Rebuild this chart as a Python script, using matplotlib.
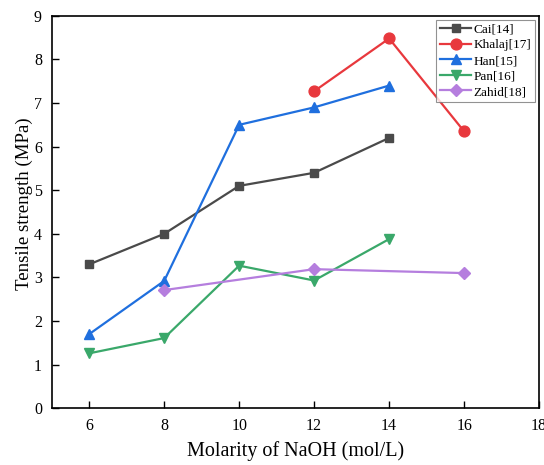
import matplotlib as mpl
mpl.use('Agg')
import matplotlib.pyplot as plt

plt.rcParams['font.family'] = ['Liberation Serif', 'DejaVu Serif']

# tensile strength (MPa) vs NaOH molarity, per study
cai_x = [6, 8, 10, 12, 14]
cai_y = [3.3, 4.0, 5.1, 5.4, 6.2]
khalaj_x = [12, 14, 16]
khalaj_y = [7.27, 8.48, 6.35]
han_x = [6, 8, 10, 12, 14]
han_y = [1.7, 2.92, 6.5, 6.9, 7.4]
pan_x = [6, 8, 10, 12, 14]
pan_y = [1.26, 1.61, 3.27, 2.93, 3.88]
zahid_x = [8, 12, 16]
zahid_y = [2.71, 3.19, 3.1]

fig = plt.figure(figsize=(5.44, 4.65), dpi=100)
ax = fig.add_axes([0.095, 0.122, 0.896, 0.844])

ax.plot(cai_x, cai_y, color='#4a4a4a', marker='s', ms=6.2, lw=1.6, label='Cai[14]')
ax.plot(khalaj_x, khalaj_y, color='#e8383d', marker='o', ms=7.8, lw=1.6, label='Khalaj[17]')
ax.plot(han_x, han_y, color='#1f6fde', marker='^', ms=7.5, lw=1.6, label='Han[15]')
ax.plot(pan_x, pan_y, color='#3aa86a', marker='v', ms=7.5, lw=1.6, label='Pan[16]')
ax.plot(zahid_x, zahid_y, color='#b57ede', marker='D', ms=6, lw=1.6, label='Zahid[18]')

ax.set_xlim(5, 18)
ax.set_ylim(0, 9)
ax.set_xticks([6, 8, 10, 12, 14, 16, 18])
ax.set_yticks(range(0, 10))
ax.tick_params(direction='in', length=5, width=1, labelsize=11.5, pad=7)
for s in ax.spines.values():
    s.set_linewidth(1.2)

ax.set_xlabel('Molarity of NaOH (mol/L)', fontsize=14.5, va='top')
ax.xaxis.set_label_coords(0.5, -0.083)
ax.set_ylabel('Tensile strength (MPa)', fontsize=13.6)
ax.yaxis.set_label_coords(-0.038, 0.522)

leg = ax.legend(loc='upper right', fontsize=9.5, handlelength=2.3, borderaxespad=0.3,
                labelspacing=0.25, handletextpad=0.2, borderpad=0.3, fancybox=False)
leg.get_frame().set_edgecolor('#777777')
leg.get_frame().set_linewidth(0.8)

plt.savefig('out.png', dpi=100)
plt.close()
